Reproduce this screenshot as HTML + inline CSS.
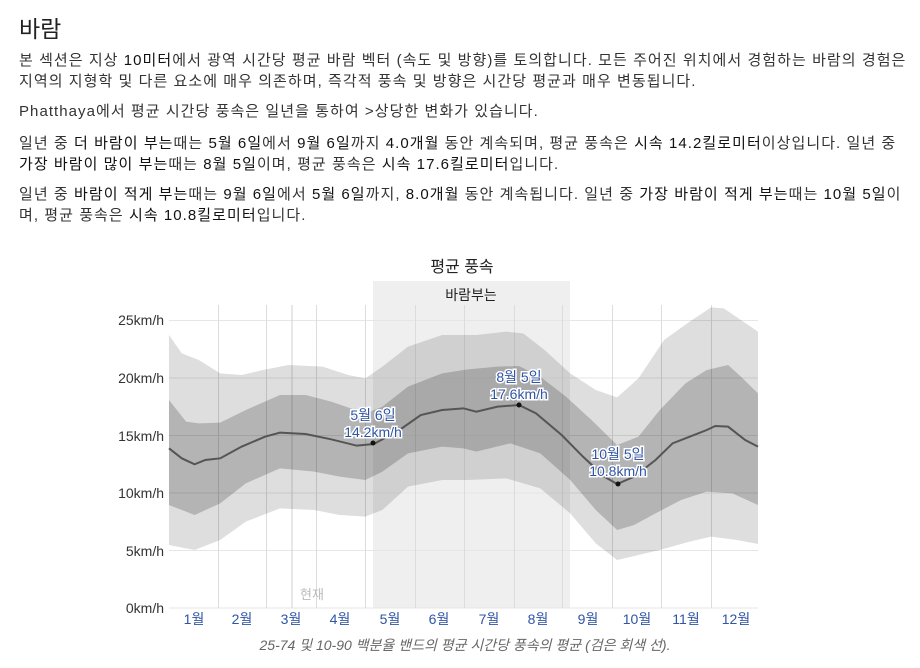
<!DOCTYPE html>
<html><head><meta charset="utf-8"><style>
body{margin:0;background:#fff;font-family:"Liberation Sans","Noto Sans CJK KR",sans-serif;color:#333;width:920px;height:668px;overflow:hidden}
h2{font-weight:normal;font-size:23px;margin:0;position:absolute;left:19px;top:10px;color:#222}
p{position:absolute;left:19px;margin:0;font-size:15px;letter-spacing:1.05px;line-height:21px;width:895px;white-space:nowrap}
b{font-weight:normal;color:#111}
</style></head><body>
<h2>바람</h2>
<p style="top:50px">본 섹션은 지상 <b>10미터</b>에서 광역 시간당 평균 바람 벡터 (속도 및 방향)를 토의합니다. 모든 주어진 위치에서 경험하는 바람의 경험은<br>지역의 지형학 및 다른 요소에 매우 의존하며, 즉각적 풍속 및 방향은 시간당 평균과 매우 변동됩니다.</p>
<p style="top:101px">Phatthaya에서 평균 시간당 풍속은 일년을 통하여 &gt;상당한 변화가 있습니다.</p>
<p style="top:133px">일년 중 <b>더 바람이 부는</b>때는 <b>5월 6일</b>에서 <b>9월 6일</b>까지 <b>4.0개월</b> 동안 계속되며, 평균 풍속은 <b>시속 14.2킬로미터</b>이상입니다. 일년 중<br><b>가장 바람이 많이 부는</b>때는 <b>8월 5일</b>이며, 평균 풍속은 <b>시속 17.6킬로미터</b>입니다.</p>
<p style="top:184px">일년 중 <b>바람이 적게 부는</b>때는 <b>9월 6일</b>에서 <b>5월 6일</b>까지, <b>8.0개월</b> 동안 계속됩니다. 일년 중 <b>가장 바람이 적게 부는</b>때는 <b>10월 5일</b>이<br>며, 평균 풍속은 <b>시속 10.8킬로미터</b>입니다.</p>
<svg width="920" height="668" style="position:absolute;left:0;top:0" font-family="Liberation Sans, Noto Sans CJK KR, sans-serif">
<rect x="373" y="281" width="197" height="327" fill="#efefef"/>
<g stroke="#e6e6e6" stroke-width="1">
<line x1="169" x2="758" y1="320.5" y2="320.5"/><line x1="169" x2="758" y1="378" y2="378"/><line x1="169" x2="758" y1="435.5" y2="435.5"/><line x1="169" x2="758" y1="493" y2="493"/><line x1="169" x2="758" y1="550.5" y2="550.5"/><line x1="169" x2="758" y1="608" y2="608"/>
</g>
<g stroke="#dcdcdc" stroke-width="1">
<line x1="218.5" x2="218.5" y1="305" y2="608"/><line x1="266.5" x2="266.5" y1="305" y2="608"/><line x1="316.5" x2="316.5" y1="305" y2="608"/><line x1="365.5" x2="365.5" y1="305" y2="608"/><line x1="415.5" x2="415.5" y1="305" y2="608"/><line x1="464.5" x2="464.5" y1="305" y2="608"/><line x1="514.5" x2="514.5" y1="305" y2="608"/><line x1="562.5" x2="562.5" y1="305" y2="608"/><line x1="612.5" x2="612.5" y1="305" y2="608"/><line x1="661.5" x2="661.5" y1="305" y2="608"/><line x1="711.5" x2="711.5" y1="305" y2="608"/>
<line x1="292" x2="292" y1="305" y2="608" stroke="#d0d0d0"/>
</g>
<g transform="matrix(0.4268 0 0 0.33333 100.7 250)">
<path fill="rgba(0,0,0,0.13)" d="M160,255 L190,310 230,330 280,370 330,375 380,360 440,345 520,350 580,375 620,385 660,350 720,290 800,255 880,255 950,245 990,250 1040,300 1100,370 1160,420 1210,442 1260,385 1320,270 1380,215 1430,172 1460,175 1500,210 1540,245 L1540,882 1490,870 1430,860 1380,875 1310,900 1260,915 1210,930 1160,880 1100,790 1030,715 950,685 860,690 800,690 720,710 660,780 620,800 560,795 500,780 420,775 340,815 280,870 220,900 160,885Z"/>
<path fill="rgba(0,0,0,0.19)" d="M160,450 L200,515 230,520 280,518 340,480 420,435 480,435 540,455 620,490 660,470 720,410 800,370 860,358 930,350 980,348 1030,380 1090,440 1150,510 1210,585 1260,560 1310,480 1370,400 1420,360 1470,345 1500,380 1540,430 L1540,765 1480,730 1420,725 1360,750 1300,790 1250,825 1210,840 1160,780 1100,690 1030,610 960,580 880,605 850,595 800,590 720,610 660,665 620,690 560,680 500,665 420,655 340,700 280,760 220,795 160,765Z"/>
<path fill="none" stroke="#555" stroke-width="2" vector-effect="non-scaling-stroke" d="M160,595 L190,625 220,643 245,630 280,625 330,590 385,560 420,548 480,552 540,568 600,587 640,582 700,540 750,495 800,480 850,475 880,485 930,470 980,465 1020,490 1080,555 1130,620 1180,680 1210,702 1250,680 1300,630 1340,580 1380,560 1420,540 1440,528 1470,530 1510,570 1540,590"/>
</g>
<circle cx="373" cy="443" r="2.5" fill="#111"/><circle cx="519" cy="405" r="2.5" fill="#111"/><circle cx="618" cy="484" r="2.5" fill="#111"/>
<g font-size="14" fill="#2f55a4" text-anchor="middle" stroke="#fff" stroke-width="3" paint-order="stroke">
<text x="373" y="420">5월 6일</text><text x="373" y="437">14.2km/h</text>
<text x="519" y="382">8월 5일</text><text x="519" y="399">17.6km/h</text>
<text x="618" y="459">10월 5일</text><text x="618" y="476">10.8km/h</text>
</g>
<text x="462" y="272" font-size="16" text-anchor="middle" fill="#222">평균 풍속</text>
<text x="471" y="300" font-size="14" text-anchor="middle" fill="#222">바람부는</text>
<text x="312" y="599" font-size="13" text-anchor="middle" fill="#bbb">현재</text>
<g font-size="14" fill="#333" text-anchor="end">
<text x="164" y="325">25km/h</text><text x="164" y="383">20km/h</text><text x="164" y="441">15km/h</text><text x="164" y="498">10km/h</text><text x="164" y="556">5km/h</text><text x="164" y="613">0km/h</text>
</g>
<g font-size="14" fill="#2f55a4" text-anchor="middle">
<text x="194" y="624">1월</text><text x="242" y="624">2월</text><text x="291" y="624">3월</text><text x="340" y="624">4월</text><text x="390" y="624">5월</text><text x="439" y="624">6월</text><text x="489" y="624">7월</text><text x="538" y="624">8월</text><text x="588" y="624">9월</text><text x="637" y="624">10월</text><text x="686" y="624">11월</text><text x="736" y="624">12월</text>
</g>
<text x="465" y="650" font-size="14" font-style="italic" text-anchor="middle" fill="#666">25-74 및 10-90 백분율 밴드의 평균 시간당 풍속의 평균 (검은 회색 선).</text>
</svg>
</body></html>
